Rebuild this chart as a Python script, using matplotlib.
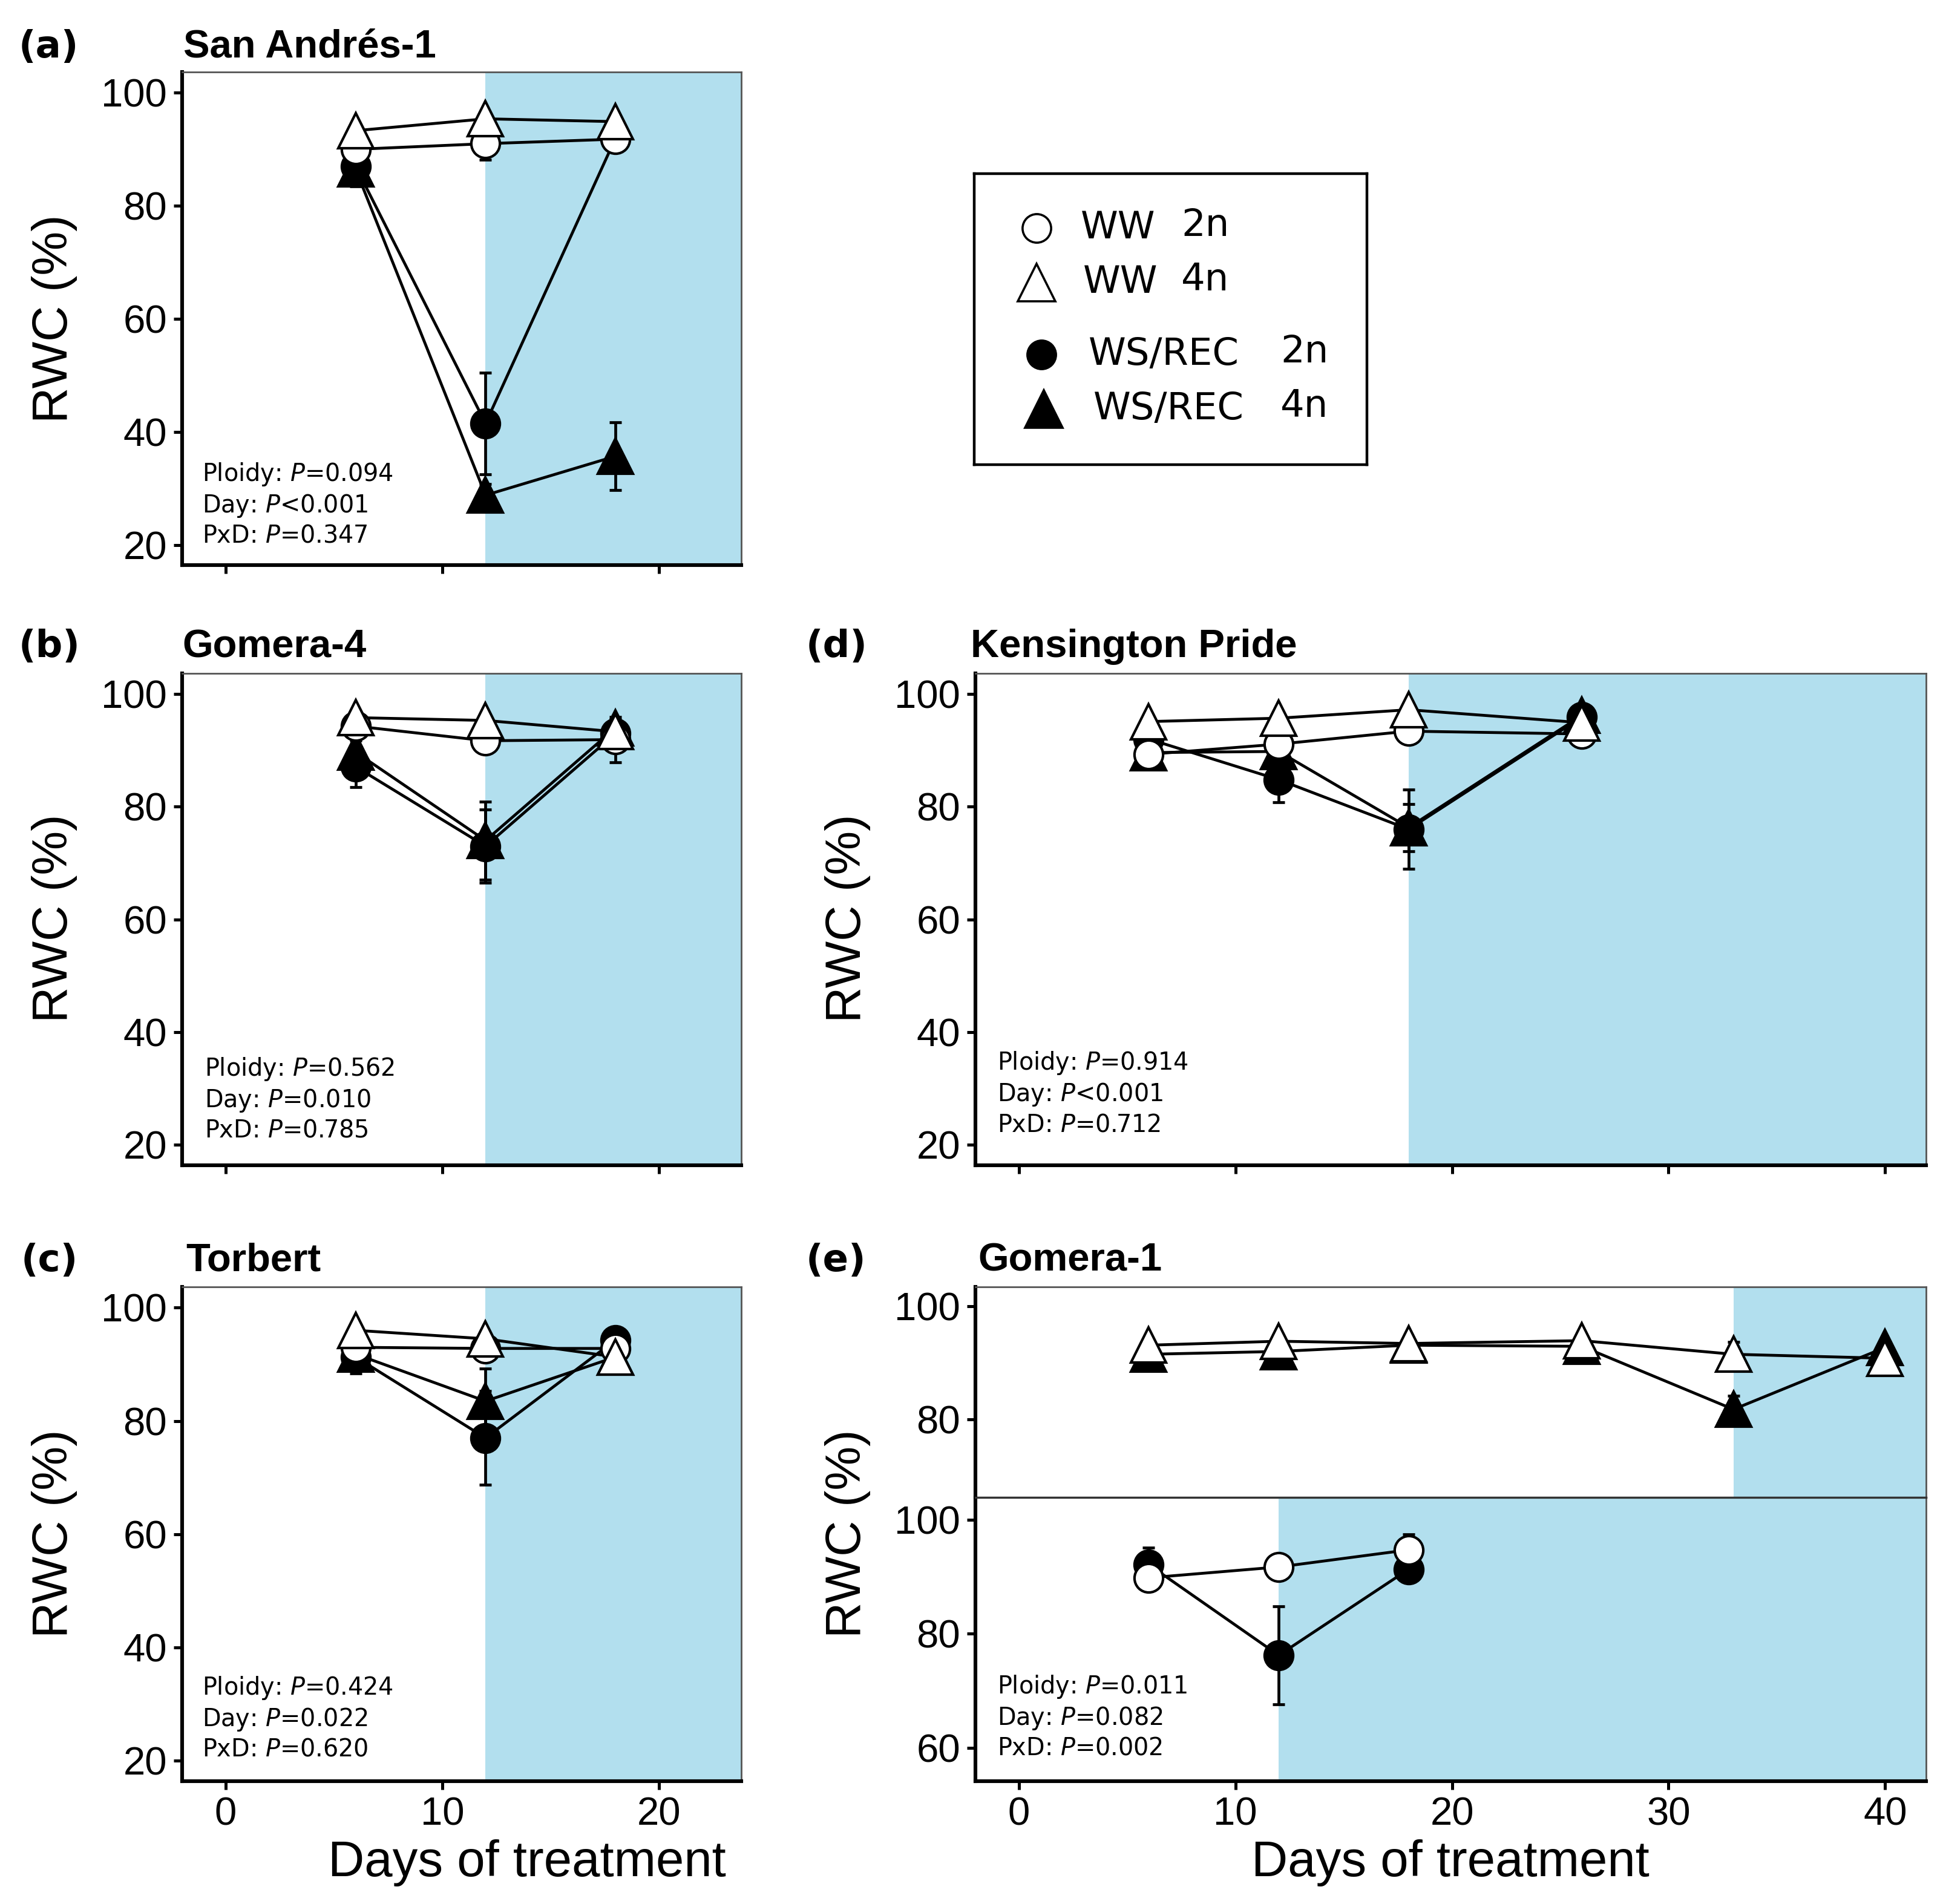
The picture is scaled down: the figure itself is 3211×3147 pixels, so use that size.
import numpy as np
import matplotlib
matplotlib.use("Agg")
import matplotlib.pyplot as plt

# Datos (RWC %)
days3 = [6, 12, 18]
days_kp = [6, 12, 18, 26]
days_g1 = [6, 12, 18, 26, 33, 40]

# San Andres-1
sa_ww2n = [90.0, 91.0, 91.8]; sa_ww2n_e = [0.8, 2.8, 2.0]
sa_ww4n = [93.3, 95.4, 94.9]; sa_ww4n_e = [0.8, 0.8, 0.8]
sa_ws2n = [87.0, 41.5, 92.0]; sa_ws2n_e = [2.0, 9.0, 1.5]
sa_ws4n = [86.5, 28.8, 35.7]; sa_ws4n_e = [3.0, 2.0, 6.0]

# Gomera-4
g4_ww2n = [94.3, 91.7, 91.9]; g4_ww2n_e = [0.8, 1.0, 4.0]
g4_ww4n = [95.8, 95.3, 93.3]; g4_ww4n_e = [0.8, 0.8, 0.8]
g4_ws2n = [87.1, 73.0, 93.0]; g4_ws2n_e = [3.6, 6.5, 1.5]
g4_ws4n = [89.7, 74.0, 94.0]; g4_ws4n_e = [2.0, 6.9, 1.5]

# Torbert
t_ww2n = [93.0, 92.8, 92.8]; t_ww2n_e = [1.0, 1.5, 1.0]
t_ww4n = [96.0, 94.5, 91.3]; t_ww4n_e = [0.8, 0.8, 0.8]
t_ws2n = [91.3, 77.0, 94.3]; t_ws2n_e = [2.9, 8.3, 1.0]
t_ws4n = [91.8, 83.5, 91.3]; t_ws4n_e = [1.0, 5.7, 1.0]

# Kensington Pride
kp_ww2n = [89.3, 91.1, 93.4, 92.9]; kp_ww2n_e = [0.8, 0.8, 0.8, 0.8]
kp_ww4n = [95.1, 95.7, 97.2, 94.9]; kp_ww4n_e = [0.8, 0.8, 0.8, 0.8]
kp_ws2n = [92.0, 84.8, 76.0, 95.9]; kp_ws2n_e = [1.0, 4.0, 7.0, 1.0]
kp_ws4n = [89.6, 89.8, 76.3, 96.2]; kp_ws4n_e = [1.0, 1.0, 4.2, 1.0]

# Gomera-1 (4n arriba, 2n abajo)
g1_ww4n = [93.1, 93.8, 93.4, 93.9, 91.5, 90.8]; g1_ww4n_e = [0.5, 0.5, 0.5, 0.5, 2.2, 0.5]
g1_ws4n = [91.5, 92.0, 93.1, 92.9, 81.8, 92.7]; g1_ws4n_e = [0.5, 0.5, 0.5, 0.5, 2.4, 0.5]
g1_ww2n = [89.8, 91.7, 94.7]; g1_ww2n_e = [0.8, 0.8, 2.7]
g1_ws2n = [92.1, 76.2, 91.3]; g1_ws2n_e = [3.0, 8.6, 2.0]

# Estadisticos
stats_a = ["0.094", "<0.001", "0.347"]
stats_b = ["0.562", "0.010", "0.785"]
stats_c = ["0.424", "0.022", "0.620"]
stats_d = ["0.914", "<0.001", "0.712"]
stats_e = ["0.011", "0.082", "0.002"]

legend_labels = [("WW", "2n"), ("WW", "4n"), ("WS/REC", "2n"), ("WS/REC", "4n")]

BLUE = "#B2DFEE"
SANS = "Liberation Sans"
VER = "DejaVu Sans"
plt.rcParams['mathtext.fontset'] = 'dejavusans'

W, H = 1568.0, 1536.0  # coordenadas de referencia


def rect(x0, y0, x1, y1):
    return [x0 / W, 1 - y1 / H, (x1 - x0) / W, (y1 - y0) / H]


fig = plt.figure(figsize=(16.06, 15.735), dpi=200)

CIRC = 17
TRI = 21


def estilo(ax, ylim, yticks, xlim, labelx):
    ax.set_xlim(*xlim)
    ax.set_ylim(*ylim)
    ax.set_yticks(yticks)
    for s in ['left', 'bottom']:
        ax.spines[s].set_linewidth(2.2)
        ax.spines[s].set_color('black')
    for s in ['top', 'right']:
        ax.spines[s].set_linewidth(1.0)
        ax.spines[s].set_color('#555555')
    ax.tick_params(direction='out', length=5, width=1.8, pad=4, labelsize=23.5)
    for lb in ax.get_xticklabels() + ax.get_yticklabels():
        lb.set_fontfamily(SANS)
    if not labelx:
        ax.tick_params(labelbottom=False)


def serie(ax, x, y, e):
    ax.plot(x, y, color='black', lw=1.7, zorder=2)
    ax.errorbar(x, y, yerr=e, fmt='none', ecolor='black', elinewidth=1.7,
                capsize=3.5, capthick=1.7, zorder=3)


def puntos(ax, x, y, marker, fill, ms):
    ax.plot(x, y, linestyle='none', marker=marker, ms=ms, mfc=fill,
            mec='black', mew=1.5, zorder=4)


def stats_text(ax, vals, xf, yf):
    txt = ("Ploidy: $\\mathit{P}$=" + vals[0] + "\n" +
           "Day: $\\mathit{P}$" + ("" if vals[1].startswith("<") else "=") + vals[1] + "\n" +
           "PxD: $\\mathit{P}$=" + vals[2])
    ax.text(xf, yf, txt, transform=ax.transAxes, fontsize=14.3, family=VER,
            va='center', ha='left', linespacing=1.25, zorder=6)


def panel(box, days, ww2, ww2e, ww4, ww4e, ws2, ws2e, ws4, ws4e, rec, xlim,
          xticks, labelx, stats, sx, sy):
    ax = fig.add_axes(rect(*box))
    ax.axvspan(rec, 100, color=BLUE, lw=0, zorder=0)
    serie(ax, days, ws2, ws2e)
    serie(ax, days, ws4, ws4e)
    serie(ax, days, ww2, ww2e)
    serie(ax, days, ww4, ww4e)
    puntos(ax, days, ws2, 'o', 'black', CIRC)
    puntos(ax, days, ws4, '^', 'black', TRI)
    puntos(ax, days, ww2, 'o', 'white', CIRC)
    puntos(ax, days, ww4, '^', 'white', TRI)
    ax.set_xticks(xticks)
    estilo(ax, (16.4, 103.7), [20, 40, 60, 80, 100], xlim, labelx)
    stats_text(ax, stats, sx, sy)
    return ax


xl_s = (-2, 23.8)
xl_l = (-2, 41.9)

panel((147, 58, 598, 456), days3, sa_ww2n, sa_ww2n_e, sa_ww4n, sa_ww4n_e,
      sa_ws2n, sa_ws2n_e, sa_ws4n, sa_ws4n_e, 12, xl_s, [0, 10, 20], False,
      stats_a, 0.036, 0.123)
panel((147, 543, 598, 940), days3, g4_ww2n, g4_ww2n_e, g4_ww4n, g4_ww4n_e,
      g4_ws2n, g4_ws2n_e, g4_ws4n, g4_ws4n_e, 12, xl_s, [0, 10, 20], False,
      stats_b, 0.040, 0.134)
panel((147, 1038, 598, 1437), days3, t_ww2n, t_ww2n_e, t_ww4n, t_ww4n_e,
      t_ws2n, t_ws2n_e, t_ws4n, t_ws4n_e, 12, xl_s, [0, 10, 20], True,
      stats_c, 0.036, 0.128)
panel((787, 543, 1554, 940), days_kp, kp_ww2n, kp_ww2n_e, kp_ww4n, kp_ww4n_e,
      kp_ws2n, kp_ws2n_e, kp_ws4n, kp_ws4n_e, 18, xl_l, [0, 10, 20, 30, 40], False,
      stats_d, 0.023, 0.146)

# Panel (e): dos sub-paneles
ax_t = fig.add_axes(rect(787, 1038, 1554, 1208))
ax_t.axvspan(33, 100, color=BLUE, lw=0, zorder=0)
serie(ax_t, days_g1, g1_ws4n, g1_ws4n_e)
serie(ax_t, days_g1, g1_ww4n, g1_ww4n_e)
puntos(ax_t, days_g1, g1_ws4n, '^', 'black', TRI)
puntos(ax_t, days_g1, g1_ww4n, '^', 'white', TRI)
ax_t.set_xticks([0, 10, 20, 30, 40])
estilo(ax_t, (66.3, 103.4), [80, 100], xl_l, False)
ax_t.tick_params(bottom=False)
ax_t.spines['bottom'].set_linewidth(1.2)
ax_t.spines['bottom'].set_color('#333333')

ax_b = fig.add_axes(rect(787, 1208, 1554, 1437))
ax_b.axvspan(12, 100, color=BLUE, lw=0, zorder=0)
serie(ax_b, days3, g1_ws2n, g1_ws2n_e)
serie(ax_b, days3, g1_ww2n, g1_ww2n_e)
puntos(ax_b, days3, g1_ws2n, 'o', 'black', CIRC)
puntos(ax_b, days3, g1_ww2n, 'o', 'white', CIRC)
ax_b.set_xticks([0, 10, 20, 30, 40])
estilo(ax_b, (54.1, 103.9), [60, 80, 100], xl_l, True)
ax_b.spines['top'].set_linewidth(1.2)
ax_b.spines['top'].set_color('#333333')
stats_text(ax_b, stats_e, 0.023, 0.227)

# Etiquetas de ejes
for yc in [257, 741, 1237]:
    fig.text(44 / W, 1 - yc / H, "RWC (%)", rotation=90, fontsize=29.5,
             family=SANS, ha='center', va='center')
for yc in [741, 1237]:
    fig.text(684 / W, 1 - yc / H, "RWC (%)", rotation=90, fontsize=29.5,
             family=SANS, ha='center', va='center')
fig.text(425 / W, 1 - 1503 / H, "Days of treatment", fontsize=30,
         family=SANS, ha='center', va='center')
fig.text(1170 / W, 1 - 1503 / H, "Days of treatment", fontsize=30,
         family=SANS, ha='center', va='center')

# Titulos
letras = [("(a)", 15, 38), ("(b)", 15, 522), ("(c)", 17, 1017),
          ("(d)", 650, 522), ("(e)", 650, 1017)]
titulos = [("San Andrés-1", 148, 38), ("Gomera-4", 147, 522),
           ("Torbert", 150, 1017), ("Kensington Pride", 783, 522),
           ("Gomera-1", 789, 1017)]
for t, x, y in letras:
    fig.text(x / W, 1 - y / H, t, fontsize=22.5, family=VER, weight='bold',
             ha='left', va='center')
for t, x, y in titulos:
    fig.text(x / W, 1 - y / H, t, fontsize=23.5, family=SANS, weight='bold',
             ha='left', va='center')

# Leyenda manual
axl = fig.add_axes(rect(786, 140, 1103, 375))
axl.set_xlim(786, 1103)
axl.set_ylim(375, 140)
axl.set_xticks([])
axl.set_yticks([])
for s in axl.spines.values():
    s.set_linewidth(1.6)
    s.set_color('black')
mk = [('o', 'white', CIRC, 836, 184, 872, 953),
      ('^', 'white', TRI + 1, 836, 228, 874, 953),
      ('o', 'black', CIRC, 840, 286, 878, 1033),
      ('^', 'black', TRI + 1, 842, 330, 882, 1033)]
for (m, fc, ms, mx, my, tx, nx), (lab, n) in zip(mk, legend_labels):
    axl.plot([mx], [my], marker=m, ms=ms, mfc=fc, mec='black', mew=1.3,
             linestyle='none')
    axl.text(tx, my, lab, fontsize=22.5, family=VER, ha='left', va='center')
    axl.text(nx, my - 2, n, fontsize=22.5, family=VER, ha='left', va='center')

fig.savefig("out.png", dpi=200)
